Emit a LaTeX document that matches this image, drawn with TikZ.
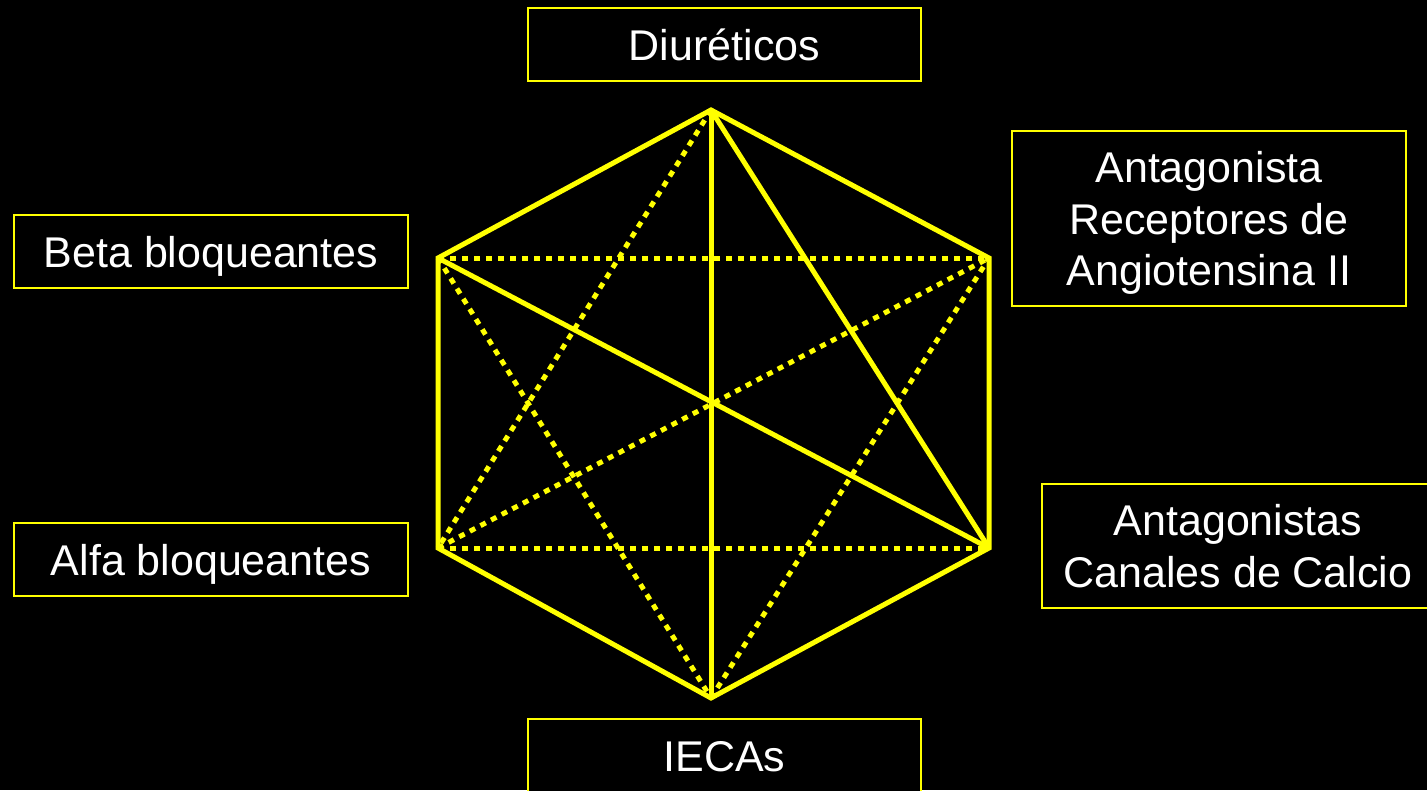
\documentclass[tikz,border=0pt]{standalone}
\usepackage{fontspec}
\setmainfont{Liberation Sans}
\definecolor{hy}{RGB}{255,255,0}
\begin{document}
\begin{tikzpicture}[x=1pt,y=-1pt,
  hex/.style={draw=hy, line width=5pt, line join=miter},
  dotline/.style={draw=hy, line width=5pt, dash pattern=on 6pt off 6pt},
  box/.style={draw=hy, line width=2.2pt, fill=black, text=white, inner sep=0pt,
    font=\fontsize{43}{51.6}\selectfont},
]
\fill[black] (0,0) rectangle (1427,790);
\useasboundingbox (0,0) rectangle (1427,790);

% hexagon vertices
\coordinate (t)  at (711,110);
\coordinate (ur) at (989,258);
\coordinate (lr) at (989,548);
\coordinate (b)  at (711,698);
\coordinate (ll) at (438,548);
\coordinate (ul) at (438,258);

% dotted diagonals
\draw[dotline] (ul) -- (ur);
\draw[dotline] (ll) -- (lr);
\draw[dotline] (t) -- (ll);
\draw[dotline] (ul) -- (b);
\draw[dotline] (ll) -- (ur);
\draw[dotline] (b) -- (ur);

% solid diagonals
\draw[hex] (t) -- (b);
\draw[hex] (t) -- (lr);
\draw[hex] (ul) -- (lr);

% hexagon
\draw[hex] (t) -- (ur) -- (lr) -- (b) -- (ll) -- (ul) -- cycle;

% labels
\node[box, minimum width=393pt, minimum height=73pt, text height=31pt, text depth=0pt]
  (diur) at (724.5,44.5) {Diuréticos};
\node[box, minimum width=394pt, minimum height=175pt, text height=134.2pt, text depth=0pt]
  (ara) at (1209,218.5) {\begin{tabular}[b]{@{}c@{}}Antagonista\\Receptores de\\Angiotensina II\end{tabular}};
\node[box, minimum width=394pt, minimum height=73pt, text height=31pt, text depth=0pt]
  (beta) at (211,251.5) {Beta bloqueantes};
\node[box, minimum width=394pt, minimum height=73pt, text height=31pt, text depth=0pt]
  (alfa) at (211,559.5) {Alfa bloqueantes};
\node[box, minimum width=392pt, minimum height=124pt, text height=82.6pt, text depth=0pt]
  (ccb) at (1238,546) {\begin{tabular}[b]{@{}c@{}}Antagonistas\\Canales de Calcio\end{tabular}};
\node[box, minimum width=393pt, minimum height=73pt, text height=31pt, text depth=0pt]
  (ieca) at (724.5,755.5) {IECAs};
\end{tikzpicture}
\end{document}
